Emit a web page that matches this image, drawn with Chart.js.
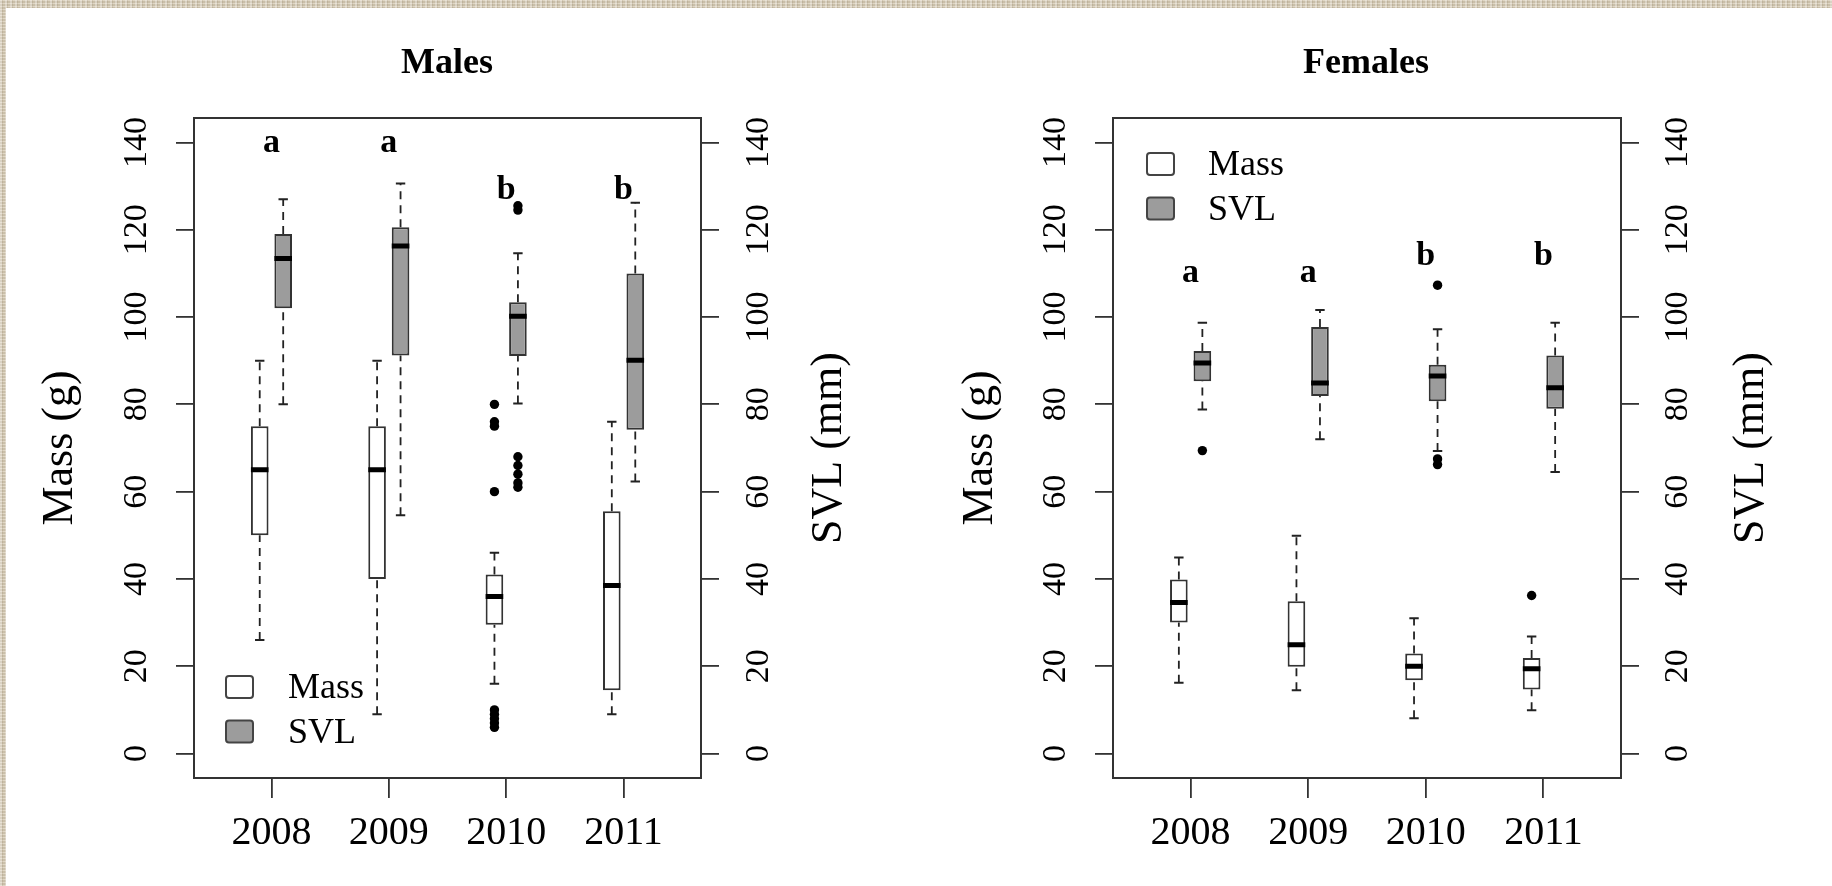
<!DOCTYPE html>
<html><head><meta charset="utf-8">
<script src="https://cdn.jsdelivr.net/npm/chart.js@4.4.1/dist/chart.umd.min.js"></script>
<style>
html,body{margin:0;padding:0;width:1832px;height:886px;overflow:hidden;}
body{background-color:#d6cbb4;background-image:repeating-linear-gradient(90deg,rgba(255,255,255,0.30) 0 2px,rgba(110,90,60,0.12) 2px 3px,rgba(255,255,255,0) 3px 5px),repeating-linear-gradient(0deg,rgba(255,255,255,0.22) 0 1px,rgba(0,0,0,0.06) 1px 3px);}
#paper{position:absolute;left:6px;top:8px;right:0;bottom:0;background:#fff;}
canvas{position:absolute;top:0;}
#cM{left:0}
#cF{left:916px}
</style></head><body>
<div id="paper"></div>
<canvas id="cM" width="916" height="886"></canvas>
<canvas id="cF" width="916" height="886"></canvas>
<script>
// ---------- data ----------
const years = ['2008', '2009', '2010', '2011'];
const yTicks = [0, 20, 40, 60, 80, 100, 120, 140];
// each box: [lower whisker, Q1, median, Q3, upper whisker]
const maleMass = [[26, 50, 65, 75, 90], [9, 40, 65, 75, 90], [16, 29.5, 36, 41, 46], [9, 14.5, 38.5, 55.5, 76]];
const maleSVL = [[80, 102, 113.4, 119, 127], [54.6, 91.2, 116.3, 120.6, 130.6], [80.2, 91.1, 100.2, 103.4, 114.6], [62.3, 74.2, 90.1, 110, 126.2]];
const maleMassOut = [[], [], [80, 76, 75, 60, 10, 9, 8, 7, 6], []];
const maleSVLOut = [[], [], [125.5, 124.5, 68, 66, 64, 62, 61], []];
const maleLetters = ['a', 'a', 'b', 'b'];
const maleLetterY = [137.7, 137.7, 127, 127];
const femaleMass = [[16.2, 30, 34.6, 39.9, 44.9], [14.5, 19.9, 24.9, 34.9, 49.9], [8.1, 16.8, 20, 22.9, 31], [9.9, 14.7, 19.4, 21.9, 26.8]];
const femaleSVL = [[78.8, 85.3, 89.5, 92.2, 98.7], [72, 81.9, 84.9, 97.7, 101.6], [69.3, 80.7, 86.5, 89.1, 97.2], [64.5, 79, 83.8, 91.2, 98.7]];
const femaleMassOut = [[], [], [], [36.2]];
const femaleSVLOut = [[69.4], [], [107.3, 67.5, 66.2], []];
const femaleLetters = ['a', 'a', 'b', 'b'];
const femaleLetterY = [108, 108, 112, 112];

// ---------- styling ----------
const SERIF = "'Liberation Serif', 'Times New Roman', Times, serif";
Chart.defaults.font.family = SERIF;
Chart.defaults.color = '#000';
const OFFSET = {Mass: -0.1, SVL: 0.1};
const HALF_BOX = 0.075, HALF_STAPLE = 0.04;
const LINE = '#333';

function boxMarks(stats, outs, offset, axisID, fill, label) {
  const xs = stats.map((s, i) => i + 1 + offset);
  const common = {yAxisID: axisID, pointRadius: 0, fill: false, tension: 0, spanGaps: false, borderCapStyle: 'butt'};
  return [
    {type: 'bar', label, legendFill: fill, yAxisID: axisID,
      data: stats.map((s, i) => ({x: xs[i], y: [s[1], s[3]]})),
      backgroundColor: fill, borderColor: LINE, borderWidth: 2, borderSkipped: false,
      grouped: false, barPercentage: 0.75, categoryPercentage: 1, order: 2},
    Object.assign({type: 'line', borderColor: '#222', borderWidth: 1.8, borderDash: [8, 6], order: 4,
      data: stats.flatMap((s, i) => [{x: xs[i], y: s[0]}, {x: xs[i], y: s[1]}, {x: xs[i], y: null},
                                    {x: xs[i], y: s[3]}, {x: xs[i], y: s[4]}, {x: xs[i], y: null}])}, common),
    Object.assign({type: 'line', borderColor: '#222', borderWidth: 2, order: 3,
      data: stats.flatMap((s, i) => [{x: xs[i] - HALF_STAPLE, y: s[0]}, {x: xs[i] + HALF_STAPLE, y: s[0]}, {x: xs[i], y: null},
                                    {x: xs[i] - HALF_STAPLE, y: s[4]}, {x: xs[i] + HALF_STAPLE, y: s[4]}, {x: xs[i], y: null}])}, common),
    Object.assign({type: 'line', borderColor: '#000', borderWidth: 5, order: 0,
      data: stats.flatMap((s, i) => [{x: xs[i] - HALF_BOX, y: s[2]}, {x: xs[i] + HALF_BOX, y: s[2]}, {x: xs[i], y: null}])}, common),
    {type: 'scatter', yAxisID: axisID, order: 1, pointRadius: 4.7, pointBackgroundColor: '#000', backgroundColor: '#000', borderWidth: 0,
      data: outs.flatMap((o, i) => o.map(v => ({x: xs[i], y: v})))}
  ];
}

// ---------- plugins ----------
const rFrame = {id: 'rFrame', afterDatasetsDraw(chart) {
  const {ctx, chartArea: a} = chart;
  ctx.save(); ctx.strokeStyle = LINE; ctx.lineWidth = 2;
  ctx.strokeRect(a.left, a.top, a.right - a.left, a.bottom - a.top); ctx.restore();
}};
const rLetters = {id: 'rLetters', afterDatasetsDraw(chart, args, o) {
  const {ctx} = chart; const x = chart.scales.x, y = chart.scales.y;
  ctx.save(); ctx.font = `bold 34px ${SERIF}`; ctx.fillStyle = '#000';
  ctx.textAlign = 'center'; ctx.textBaseline = 'alphabetic';
  o.letters.forEach((t, i) => ctx.fillText(t, x.getPixelForValue(i + 1), y.getPixelForValue(o.letterY[i])));
  ctx.restore();
}};
const rLegend = {id: 'rLegend', afterDatasetsDraw(chart, args, o) {
  const {ctx, chartArea: a} = chart;
  const items = chart.data.datasets.filter(d => d.legendFill);
  const top = o.anchor === 'bottom' ? a.bottom - o.dy : a.top + o.dy;
  items.forEach((d, i) => {
    const x = a.left + o.dx, y = top + i * o.gap;
    ctx.save();
    ctx.beginPath(); ctx.roundRect(x, y, o.w, o.h, 3);
    ctx.fillStyle = d.legendFill; ctx.fill();
    ctx.strokeStyle = '#444'; ctx.lineWidth = 2; ctx.stroke();
    ctx.fillStyle = '#000'; ctx.font = `36px ${SERIF}`; ctx.textBaseline = 'middle'; ctx.textAlign = 'left';
    ctx.fillText(d.label, x + o.textDx, y + o.h / 2 + 2);
    ctx.restore();
  });
}};
const rRightTitle = {id: 'rRightTitle', afterDraw(chart, args, o) {
  const {ctx, chartArea: a} = chart;
  ctx.save(); ctx.translate(a.right + o.dx, (a.top + a.bottom) / 2); ctx.rotate(-Math.PI / 2);
  ctx.font = `44px ${SERIF}`; ctx.fillStyle = '#000'; ctx.textAlign = 'center'; ctx.textBaseline = 'middle';
  ctx.fillText(o.text, 0, 0); ctx.restore();
}};

function yAxis(position, width, pad, title) {
  const ax = {
    type: 'linear', position, min: -5.6, max: 145.6,
    afterBuildTicks: s => { s.ticks = yTicks.map(v => ({value: v})); },
    afterFit: s => { s.width = width; },
    ticks: {minRotation: 90, maxRotation: 90, crossAlign: 'center', padding: pad, font: {size: 34}, color: '#000', autoSkip: false},
    grid: {drawOnChartArea: false, drawTicks: true, tickLength: 18, color: LINE, lineWidth: 1.8},
    border: {display: false}
  };
  if (title) ax.title = {display: true, text: title.text, font: {size: 44, lineHeight: 1.2}, color: '#000', padding: {top: title.pad, bottom: 0}};
  return ax;
}

function makeChart(id, titleText, mass, svl, massOut, svlOut, letters, letterY, L) {
  const datasets = [...boxMarks(mass, massOut, OFFSET.Mass, 'y', '#ffffff', 'Mass'),
                    ...boxMarks(svl, svlOut, OFFSET.SVL, 'y2', '#9c9c9c', 'SVL')];
  return new Chart(document.getElementById(id), {
    type: 'bar',
    data: {datasets},
    options: {
      responsive: false, animation: false, events: [],
      layout: {padding: {left: 0, right: L.padRight, top: 0, bottom: 0}},
      plugins: {
        legend: {display: false}, tooltip: {enabled: false},
        title: {display: true, text: titleText, color: '#000', font: {size: 36, weight: 'bold', lineHeight: 1.2}, padding: {top: 42.4, bottom: 32.4}},
        rLetters: {letters, letterY},
        rLegend: L.legend,
        rRightTitle: {text: 'SVL (mm)', dx: L.svlTitleDx}
      },
      scales: {
        x: {type: 'linear', position: 'bottom', min: 0.34, max: 4.66, offset: false,
          afterBuildTicks: s => { s.ticks = years.map((_, i) => ({value: i + 1})); },
          afterFit: s => { s.height = 108; },
          ticks: {autoSkip: false, padding: 11, font: {size: 40}, color: '#000', maxRotation: 0,
                  callback: v => years[Math.round(v) - 1]},
          grid: {offset: false, drawOnChartArea: false, drawTicks: true, tickLength: 20, color: LINE, lineWidth: 1.8},
          border: {display: false}},
        y: yAxis('left', L.left, L.leftPad, {text: 'Mass (g)', pad: L.massTitlePad}),
        y2: yAxis('right', 916 - L.padRight - L.right, L.rightPad, null)
      }
    },
    plugins: [rFrame, rLetters, rLegend, rRightTitle]
  });
}

makeChart('cM', 'Males', maleMass, maleSVL, maleMassOut, maleSVLOut, maleLetters, maleLetterY,
  {left: 194, right: 701, padRight: 22, leftPad: 13.5, rightPad: 14.5, massTitlePad: 33.6, svlTitleDx: 128,
   legend: {anchor: 'bottom', dx: 32, dy: 102, gap: 44.5, w: 27, h: 22, textDx: 62}});
makeChart('cF', 'Females', femaleMass, femaleSVL, femaleMassOut, femaleSVLOut, femaleLetters, femaleLetterY,
  {left: 197, right: 705, padRight: 16, leftPad: 13.5, rightPad: 13.5, massTitlePad: 37.6, svlTitleDx: 130,
   legend: {anchor: 'top', dx: 34, dy: 35, gap: 44.5, w: 27, h: 22, textDx: 61}});
</script></body></html>
